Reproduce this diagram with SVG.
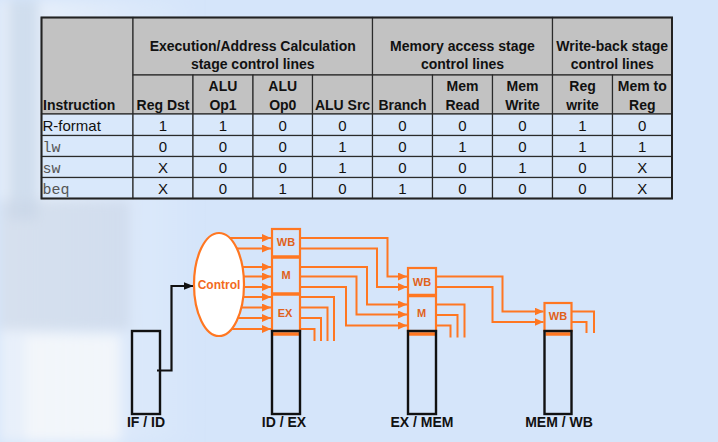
<svg xmlns="http://www.w3.org/2000/svg" width="718" height="442" viewBox="0 0 718 442">
<style>
.hd{font-family:"Liberation Sans",Arial,sans-serif;font-weight:bold;font-size:14px;fill:#111;text-anchor:middle}
.cv{font-family:"Liberation Sans",Arial,sans-serif;font-size:15px;fill:#111;text-anchor:middle}
.mono{font-family:"Liberation Mono","Courier New",monospace;font-size:15px;fill:#555}
.hcell{fill:#c2c2c2;stroke:#2a2a2a;stroke-width:1.2}
.bcell{fill:#d9e8fb;stroke:#2a2a2a;stroke-width:1.2}
.or{fill:none;stroke:#ff7722;stroke-width:2}
.orbox{fill:none;stroke:#ff7722;stroke-width:2.2}
.div{stroke:#ff7722;stroke-width:3.5}
.blk{fill:none;stroke:#111;stroke-width:2.4}
.lbl{font-family:"Liberation Sans",Arial,sans-serif;font-weight:bold;font-size:11px;fill:#e0621a;text-anchor:middle}
.reg{font-family:"Liberation Sans",Arial,sans-serif;font-weight:bold;font-size:14px;fill:#111;text-anchor:middle}
</style>
<defs>
<marker id="ah" markerWidth="9" markerHeight="8" refX="9" refY="4" orient="auto" markerUnits="userSpaceOnUse"><path d="M0,0 L9,4 L0,8 Z" fill="#ff7722"/></marker>
<marker id="bh" markerWidth="10" markerHeight="8" refX="10" refY="4" orient="auto" markerUnits="userSpaceOnUse"><path d="M0,0 L10,4 L0,8 Z" fill="#111"/></marker>
<linearGradient id="lg" x1="0" y1="0" x2="1" y2="0">
<stop offset="0" stop-color="#eef3fa" stop-opacity="0.8"/>
<stop offset="1" stop-color="#eef3fa" stop-opacity="0"/>
</linearGradient>
<filter id="bl"><feGaussianBlur stdDeviation="6"/></filter>
</defs>
<rect width="718" height="442" fill="#d5e5fa"/>
<g id="bg" filter="url(#bl)">
<rect x="0" y="0" width="200" height="442" fill="url(#lg)"/>
<rect x="8" y="0" width="30" height="220" fill="#c2d2e6" opacity="0.6"/>
<rect x="0" y="200" width="130" height="130" fill="#c9d6e6" opacity="0.6"/>
<rect x="25" y="335" width="95" height="107" fill="#f4f7fb" opacity="0.9"/>
</g>
<g id="table">
<rect class="hcell" x="41.5" y="17.5" width="91.5" height="96.5"/>
<rect class="hcell" x="133" y="17.5" width="239.5" height="57.5"/>
<rect class="hcell" x="372.5" y="17.5" width="180" height="57.5"/>
<rect class="hcell" x="552.5" y="17.5" width="119.5" height="57.5"/>
<rect class="hcell" x="133" y="75" width="60" height="39"/>
<rect class="hcell" x="193" y="75" width="60" height="39"/>
<rect class="hcell" x="253" y="75" width="59.5" height="39"/>
<rect class="hcell" x="312.5" y="75" width="60" height="39"/>
<rect class="hcell" x="372.5" y="75" width="60" height="39"/>
<rect class="hcell" x="432.5" y="75" width="60" height="39"/>
<rect class="hcell" x="492.5" y="75" width="60" height="39"/>
<rect class="hcell" x="552.5" y="75" width="60" height="39"/>
<rect class="hcell" x="612.5" y="75" width="59.5" height="39"/>
<g>
<rect class="bcell" x="41.5" y="114" width="91.5" height="21.5"/><rect class="bcell" x="133" y="114" width="60" height="21.5"/><rect class="bcell" x="193" y="114" width="60" height="21.5"/><rect class="bcell" x="253" y="114" width="59.5" height="21.5"/><rect class="bcell" x="312.5" y="114" width="60" height="21.5"/><rect class="bcell" x="372.5" y="114" width="60" height="21.5"/><rect class="bcell" x="432.5" y="114" width="60" height="21.5"/><rect class="bcell" x="492.5" y="114" width="60" height="21.5"/><rect class="bcell" x="552.5" y="114" width="60" height="21.5"/><rect class="bcell" x="612.5" y="114" width="59.5" height="21.5"/>
<rect class="bcell" x="41.5" y="135.5" width="91.5" height="21"/><rect class="bcell" x="133" y="135.5" width="60" height="21"/><rect class="bcell" x="193" y="135.5" width="60" height="21"/><rect class="bcell" x="253" y="135.5" width="59.5" height="21"/><rect class="bcell" x="312.5" y="135.5" width="60" height="21"/><rect class="bcell" x="372.5" y="135.5" width="60" height="21"/><rect class="bcell" x="432.5" y="135.5" width="60" height="21"/><rect class="bcell" x="492.5" y="135.5" width="60" height="21"/><rect class="bcell" x="552.5" y="135.5" width="60" height="21"/><rect class="bcell" x="612.5" y="135.5" width="59.5" height="21"/>
<rect class="bcell" x="41.5" y="156.5" width="91.5" height="21"/><rect class="bcell" x="133" y="156.5" width="60" height="21"/><rect class="bcell" x="193" y="156.5" width="60" height="21"/><rect class="bcell" x="253" y="156.5" width="59.5" height="21"/><rect class="bcell" x="312.5" y="156.5" width="60" height="21"/><rect class="bcell" x="372.5" y="156.5" width="60" height="21"/><rect class="bcell" x="432.5" y="156.5" width="60" height="21"/><rect class="bcell" x="492.5" y="156.5" width="60" height="21"/><rect class="bcell" x="552.5" y="156.5" width="60" height="21"/><rect class="bcell" x="612.5" y="156.5" width="59.5" height="21"/>
<rect class="bcell" x="41.5" y="177.5" width="91.5" height="21"/><rect class="bcell" x="133" y="177.5" width="60" height="21"/><rect class="bcell" x="193" y="177.5" width="60" height="21"/><rect class="bcell" x="253" y="177.5" width="59.5" height="21"/><rect class="bcell" x="312.5" y="177.5" width="60" height="21"/><rect class="bcell" x="372.5" y="177.5" width="60" height="21"/><rect class="bcell" x="432.5" y="177.5" width="60" height="21"/><rect class="bcell" x="492.5" y="177.5" width="60" height="21"/><rect class="bcell" x="552.5" y="177.5" width="60" height="21"/><rect class="bcell" x="612.5" y="177.5" width="59.5" height="21"/>
</g>
<rect x="41.5" y="17.5" width="630.5" height="181" fill="none" stroke="#222" stroke-width="2"/>
<text class="hd" x="252.75" y="50.5">Execution/Address Calculation</text>
<text class="hd" x="252.75" y="68.5">stage control lines</text>
<text class="hd" x="462.5" y="50.5">Memory access stage</text>
<text class="hd" x="462.5" y="68.5">control lines</text>
<text class="hd" x="612.25" y="50.5">Write-back stage</text>
<text class="hd" x="612.25" y="68.5">control lines</text>
<text class="hd" x="43" y="110" style="text-anchor:start">Instruction</text>
<text class="hd" x="163" y="110">Reg Dst</text>
<text class="hd" x="223" y="91">ALU</text><text class="hd" x="223" y="110">Op1</text>
<text class="hd" x="282.75" y="91">ALU</text><text class="hd" x="282.75" y="110">Op0</text>
<text class="hd" x="342.5" y="110">ALU Src</text>
<text class="hd" x="402.5" y="110">Branch</text>
<text class="hd" x="462.5" y="91">Mem</text><text class="hd" x="462.5" y="110">Read</text>
<text class="hd" x="522.5" y="91">Mem</text><text class="hd" x="522.5" y="110">Write</text>
<text class="hd" x="582.5" y="91">Reg</text><text class="hd" x="582.5" y="110">write</text>
<text class="hd" x="642.25" y="91">Mem to</text><text class="hd" x="642.25" y="110">Reg</text>
<text class="cv" x="42.5" y="130.5" style="text-anchor:start">R-format</text>
<text class="mono" x="42.5" y="151.5">lw</text>
<text class="mono" x="42.5" y="172.5">sw</text>
<text class="mono" x="42.5" y="193.5">beq</text>
<g class="r1">
<text class="cv" x="163" y="130.5">1</text><text class="cv" x="223" y="130.5">1</text><text class="cv" x="282.75" y="130.5">0</text><text class="cv" x="342.5" y="130.5">0</text><text class="cv" x="402.5" y="130.5">0</text><text class="cv" x="462.5" y="130.5">0</text><text class="cv" x="522.5" y="130.5">0</text><text class="cv" x="582.5" y="130.5">1</text><text class="cv" x="642.25" y="130.5">0</text>
<text class="cv" x="163" y="151.5">0</text><text class="cv" x="223" y="151.5">0</text><text class="cv" x="282.75" y="151.5">0</text><text class="cv" x="342.5" y="151.5">1</text><text class="cv" x="402.5" y="151.5">0</text><text class="cv" x="462.5" y="151.5">1</text><text class="cv" x="522.5" y="151.5">0</text><text class="cv" x="582.5" y="151.5">1</text><text class="cv" x="642.25" y="151.5">1</text>
<text class="cv" x="163" y="172.5">X</text><text class="cv" x="223" y="172.5">0</text><text class="cv" x="282.75" y="172.5">0</text><text class="cv" x="342.5" y="172.5">1</text><text class="cv" x="402.5" y="172.5">0</text><text class="cv" x="462.5" y="172.5">0</text><text class="cv" x="522.5" y="172.5">1</text><text class="cv" x="582.5" y="172.5">0</text><text class="cv" x="642.25" y="172.5">X</text>
<text class="cv" x="163" y="193.5">X</text><text class="cv" x="223" y="193.5">0</text><text class="cv" x="282.75" y="193.5">1</text><text class="cv" x="342.5" y="193.5">0</text><text class="cv" x="402.5" y="193.5">1</text><text class="cv" x="462.5" y="193.5">0</text><text class="cv" x="522.5" y="193.5">0</text><text class="cv" x="582.5" y="193.5">0</text><text class="cv" x="642.25" y="193.5">X</text>
</g>
</g>
<g id="connectors">
<g class="or">
<path d="M219,238 H271" marker-end="url(#ah)"/>
<path d="M219,248.5 H271" marker-end="url(#ah)"/>
<path d="M219,267 H271" marker-end="url(#ah)"/>
<path d="M219,276.5 H271" marker-end="url(#ah)"/>
<path d="M219,287 H271" marker-end="url(#ah)"/>
<path d="M219,297 H271" marker-end="url(#ah)"/>
<path d="M219,307.5 H271" marker-end="url(#ah)"/>
<path d="M219,318 H271" marker-end="url(#ah)"/>
<path d="M219,329 H271" marker-end="url(#ah)"/>
<path d="M300,238 H387.5 V276.5 H407" marker-end="url(#ah)"/>
<path d="M300,248.5 H377 V287 H407" marker-end="url(#ah)"/>
<path d="M300,267 H367 V304.5 H407" marker-end="url(#ah)"/>
<path d="M300,276.5 H356.5 V314.5 H407" marker-end="url(#ah)"/>
<path d="M300,287 H346 V325.5 H407" marker-end="url(#ah)"/>
<path d="M300,297 H334 V341"/>
<path d="M300,307.5 H327.5 V341"/>
<path d="M300,318 H321 V341"/>
<path d="M300,329 H314.5 V341"/>
<path d="M436,276.5 H502.5 V311.5 H543.5" marker-end="url(#ah)"/>
<path d="M436,287 H492.5 V322 H543.5" marker-end="url(#ah)"/>
<path d="M436,304.5 H464.5 V337.5"/>
<path d="M436,315 H457.5 V337.5"/>
<path d="M436,325.5 H450.5 V337.5"/>
<path d="M572,311.5 H594 V333"/>
<path d="M572,322 H586.5 V333"/>
</g>
<path d="M157,370.5 H171.5 V286 H193.5" fill="none" stroke="#111" stroke-width="2.2" marker-end="url(#bh)"/>
</g>
<g id="control">
<ellipse cx="219" cy="284.5" rx="25" ry="51.5" fill="#fff" stroke="#ff7722" stroke-width="2.2"/>
<text x="219" y="289" style="font-family:'Liberation Sans',Arial,sans-serif;font-weight:bold;font-size:12px;fill:#f26a1e;text-anchor:middle">Control</text>
</g>
<g id="if-id">
<rect class="blk" x="132" y="331" width="28" height="83"/>
<text class="reg" x="146" y="427">IF / ID</text>
</g>
<g id="id-ex">
<rect class="orbox" x="272" y="229" width="28" height="102"/>
<line class="div" x1="272" y1="257" x2="300" y2="257"/>
<line class="div" x1="272" y1="294" x2="300" y2="294"/>
<line class="div" x1="273" y1="334" x2="299" y2="334"/>
<rect class="blk" x="272" y="331" width="28" height="83"/>
<text class="lbl" x="286" y="246">WB</text>
<text class="lbl" x="286" y="279">M</text>
<text class="lbl" x="285" y="316.5">EX</text>
<text class="reg" x="284" y="427">ID / EX</text>
</g>
<g id="ex-mem">
<rect class="orbox" x="408" y="268" width="28" height="63"/>
<line class="div" x1="408" y1="295.5" x2="436" y2="295.5"/>
<line class="div" x1="409" y1="334" x2="435" y2="334"/>
<rect class="blk" x="408" y="331" width="28" height="83"/>
<text class="lbl" x="422" y="285.5">WB</text>
<text class="lbl" x="421.5" y="317">M</text>
<text class="reg" x="422" y="427">EX / MEM</text>
</g>
<g id="mem-wb">
<rect class="orbox" x="544.5" y="303" width="27" height="28"/>
<line class="div" x1="545.5" y1="334" x2="570.5" y2="334"/>
<rect class="blk" x="544.5" y="331" width="27" height="83"/>
<text class="lbl" x="558" y="320">WB</text>
<text class="reg" x="559" y="427">MEM / WB</text>
</g>
</svg>
